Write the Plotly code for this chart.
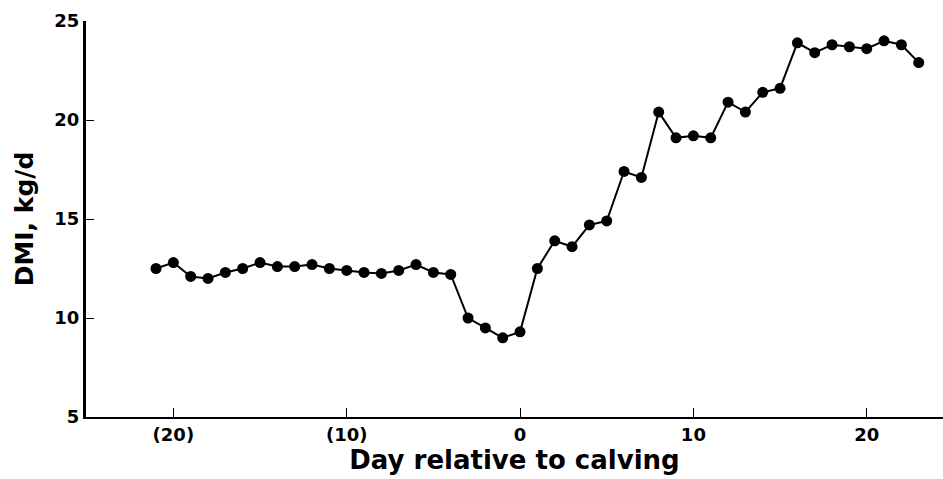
import plotly.graph_objects as go

days = list(range(-21, 24))
dmi = [12.5, 12.8, 12.1, 12.0, 12.3, 12.5, 12.8, 12.6, 12.6, 12.7,
       12.5, 12.4, 12.3, 12.25, 12.4, 12.7, 12.3, 12.2, 10.0, 9.5,
       9.0, 9.3,
       12.5, 13.9, 13.6, 14.7, 14.9, 17.4, 17.1, 20.4, 19.1, 19.2,
       19.1, 20.9, 20.4, 21.4, 21.6, 23.9, 23.4, 23.8, 23.7, 23.6,
       24.0, 23.8, 22.9]

x_tickvals = [-20, -10, 0, 10, 20]
x_ticktext = ["(20)", "(10)", "0", "10", "20"]
y_tickvals = [5, 10, 15, 20, 25]
y_ticktext = ["5", "10", "15", "20", "25"]

FONT = "DejaVu Sans, Liberation Sans, Arial, sans-serif"

fig = go.Figure(go.Scatter(
    x=days, y=dmi, mode="lines+markers",
    line=dict(color="black", width=2),
    marker=dict(color="black", size=11),
))

fig.update_layout(
    width=943, height=479,
    margin=dict(l=86, r=0, t=21, b=62),
    paper_bgcolor="white", plot_bgcolor="white",
    showlegend=False,
    font=dict(family=FONT, color="black"),
)
fig.update_xaxes(
    range=[-25.04, 24.4], tickvals=x_tickvals, ticktext=x_ticktext,
    showgrid=False, zeroline=False,
    showline=True, linecolor="black", linewidth=2,
    ticks="inside", ticklen=9, tickwidth=1, tickcolor="black",
    tickfont=dict(family=FONT, size=18, color="black", weight="bold"),
    title=dict(text="Day relative to calving", standoff=2,
               font=dict(family=FONT, size=26, color="black", weight="bold")),
    automargin=False,
)
fig.update_yaxes(
    range=[5, 25], tickvals=y_tickvals, ticktext=y_ticktext,
    showgrid=False, zeroline=False,
    showline=True, linecolor="black", linewidth=3,
    ticks="inside", ticklen=8, tickwidth=1, tickcolor="black",
    tickfont=dict(family=FONT, size=18, color="black", weight="bold"),
    title=dict(text="DMI, kg/d", standoff=14,
               font=dict(family=FONT, size=25, color="black", weight="bold")),
    automargin=False,
)

fig.write_html(
    "out.html",
    config={"displayModeBar": False},
    post_script="document.body.style.margin='0';document.body.style.overflow='hidden';",
)
